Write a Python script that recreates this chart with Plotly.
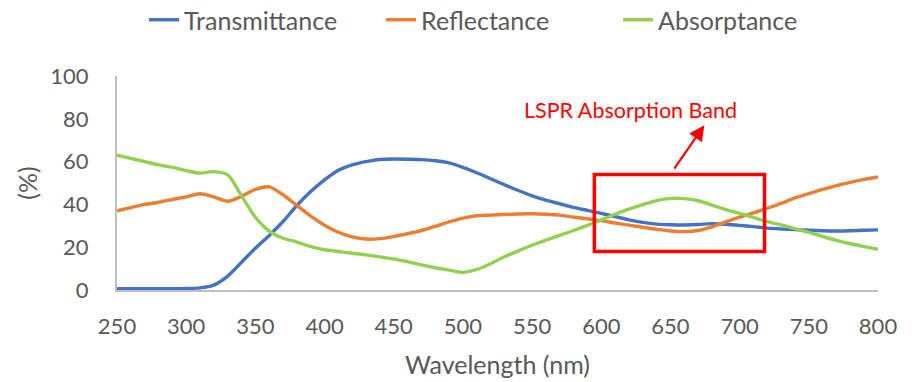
import plotly.graph_objects as go

# ---- data ----
wavelength = [250, 260, 270, 280, 290, 300, 310, 320, 330, 340, 350, 360, 370, 380, 390,
              400, 410, 420, 430, 440, 450, 460, 470, 480, 490, 500, 510, 520, 530, 540,
              550, 560, 570, 580, 590, 600, 610, 620, 630, 640, 650, 660, 670, 680, 690,
              700, 710, 720, 730, 740, 750, 760, 770, 780, 790, 800]

transmittance = [0.6, 0.6, 0.6, 0.6, 0.6, 0.7, 1.0, 2.3, 6.5, 13.0, 19.5, 25.5, 32.0, 39.5, 46.0,
                 51.5, 56.0, 58.5, 60.0, 61.0, 61.2, 61.1, 60.9, 60.4, 59.4, 57.3, 54.8, 52.0, 49.2, 46.5,
                 44.0, 42.0, 40.3, 38.6, 37.2, 35.8, 34.3, 32.8, 31.6, 30.8, 30.5, 30.4, 30.6, 31.0, 30.7,
                 30.2, 29.6, 28.9, 28.5, 28.2, 27.9, 27.7, 27.6, 27.7, 27.9, 28.1]

reflectance = [37.0, 38.5, 40.0, 41.0, 42.3, 43.5, 45.0, 43.5, 41.5, 43.8, 47.0, 48.2, 44.5, 39.5, 34.5,
               30.3, 27.0, 24.8, 23.8, 24.0, 25.0, 26.3, 27.8, 29.7, 31.8, 33.6, 34.7, 35.0, 35.3, 35.5,
               35.6, 35.4, 35.0, 34.0, 33.3, 32.4, 31.3, 30.3, 29.3, 28.4, 27.6, 27.3, 27.8, 29.5, 31.8,
               34.0, 36.0, 38.2, 40.5, 43.0, 45.0, 47.0, 48.8, 50.3, 51.7, 52.8]

absorptance = [63.0, 61.5, 60.0, 58.5, 57.3, 55.8, 54.6, 55.3, 53.8, 44.0, 34.0, 27.5, 24.2, 22.4, 20.3,
               18.8, 18.0, 17.2, 16.4, 15.5, 14.5, 13.3, 11.7, 10.4, 9.3, 8.2, 9.6, 12.3, 15.5, 18.3,
               20.9, 23.3, 25.5, 27.8, 30.2, 32.8, 35.4, 37.8, 39.9, 41.8, 42.8, 42.7, 41.7, 39.7, 37.6,
               35.8, 33.9, 32.0, 30.4, 28.7, 26.9, 25.0, 23.2, 21.6, 20.3, 19.0]

series_names = ["Transmittance", "Reflectance", "Absorptance"]
series_values = [transmittance, reflectance, absorptance]
series_colors = ["#4472C4", "#ED7D31", "#92D050"]

x_ticks = [250, 300, 350, 400, 450, 500, 550, 600, 650, 700, 750, 800]
y_ticks = [0, 20, 40, 60, 80, 100]

# highlighted LSPR band (data coordinates of the annotation box)
band_x = [595, 718]
band_y = [18, 54]
band_label = "LSPR Absorption Band"

FONT = "Lato, Carlito, Calibri, sans-serif"
GREY = "#595959"

fig = go.Figure()
for name, vals, col in zip(series_names, series_values, series_colors):
    fig.add_trace(go.Scatter(
        x=wavelength, y=vals, name=name, mode="lines",
        line=dict(color=col, width=3.4, shape="spline", smoothing=0.8),
    ))

fig.add_shape(type="rect", xref="x", yref="y",
              x0=band_x[0], x1=band_x[1], y0=band_y[0], y1=band_y[1],
              line=dict(color="#FF0000", width=3.5))

fig.add_annotation(x=621, y=84.3, xref="x", yref="y", text=band_label,
                   showarrow=False, font=dict(family=FONT, size=21.5, color="#FF0000"))
fig.add_annotation(x=674.5, y=77, xref="x", yref="y", ax=652, ay=56,
                   axref="x", ayref="y", text="", showarrow=True,
                   arrowhead=2, arrowsize=1.4, arrowwidth=2.2, arrowcolor="#FF0000")

fig.update_layout(
    width=912, height=382,
    margin=dict(l=117, r=34, t=76, b=92, autoexpand=False),
    paper_bgcolor="white", plot_bgcolor="white",
    font=dict(family=FONT, size=22, color=GREY),
    showlegend=True,
    legend=dict(orientation="h", xref="container", x=0.158, xanchor="left",
                yref="container", y=1 - 20 / 382, yanchor="middle",
                font=dict(family=FONT, size=25, color=GREY), bgcolor="rgba(0,0,0,0)",
                itemwidth=30, entrywidth=192, tracegroupgap=0),
    xaxis=dict(range=[250, 800], tickvals=x_ticks, showgrid=False, zeroline=False,
               showline=True, linecolor="#BFBFBF", linewidth=2, ticks="",
               ticklabelstandoff=16, layer="below traces",
               title=dict(text="Wavelength (nm)", font=dict(family=FONT, size=25, color=GREY), standoff=18),
               tickfont=dict(family=FONT, size=22, color=GREY)),
    yaxis=dict(range=[0, 100], tickvals=y_ticks, showgrid=False, zeroline=False,
               showline=True, linecolor="#BFBFBF", linewidth=2, ticks="",
               ticklabelstandoff=22, layer="below traces",
               title=dict(text="(%)", font=dict(family=FONT, size=25, color=GREY), standoff=6),
               tickfont=dict(family=FONT, size=22, color=GREY)),
)

fig.write_html("out.html")
